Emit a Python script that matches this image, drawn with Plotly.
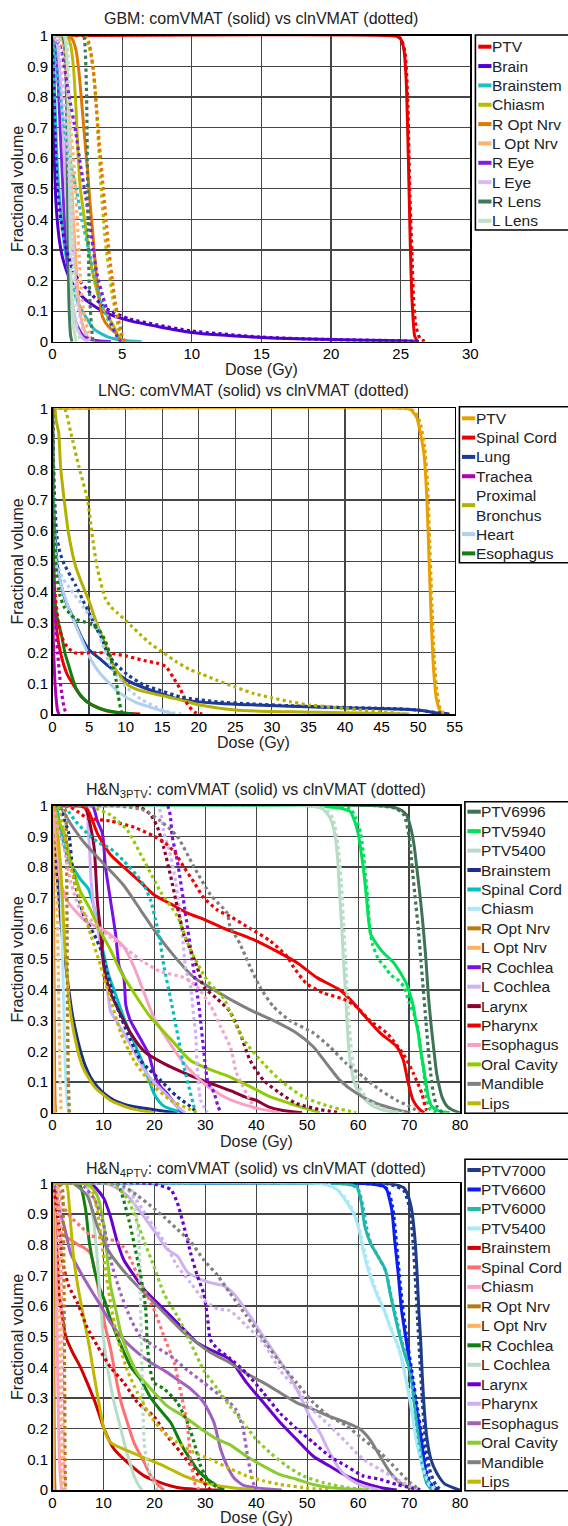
import plotly.graph_objects as go

W, H = 568, 1526
FONT = "Liberation Sans, Arial, Helvetica, sans-serif"

# =================== DATA (dose Gy, fractional volume) ===================
# ---- GBM ----
GBM_NAMES = ["PTV", "Brain", "Brainstem", "Chiasm", "R Opt Nrv", "L Opt Nrv",
             "R Eye", "L Eye", "R Lens", "L Lens"]
GBM_COLORS = ["#e80000", "#5000d0", "#20c0c0", "#bfb800", "#e07800", "#ffb070",
              "#7b22e0", "#d8b8f8", "#3d7a5c", "#c0e0c8"]
GBM_PTV_COM = [(0,1),(24.5,1),(24.9,0.995),(25.1,0.98),(25.25,0.95),(25.4,0.85),(25.5,0.7),(25.6,0.5),(25.7,0.3),(25.8,0.15),(25.9,0.07),(26.0,0.02),(26.2,0)]
GBM_PTV_CLN = [(0,1),(24.5,1),(25.0,0.99),(25.3,0.95),(25.5,0.8),(25.65,0.5),(25.8,0.3),(25.95,0.12),(26.1,0.05),(26.4,0.01),(26.8,0)]
GBM_BRAIN_COM = [(0,1),(0.05,0.8),(0.1,0.65),(0.2,0.5),(0.3,0.42),(0.5,0.33),(0.75,0.27),(1.3,0.2),(2.3,0.14),(3.8,0.095),(5.6,0.068),(7.5,0.05),(10,0.03),(15,0.014),(20,0.007),(25,0.003),(26.3,0)]
GBM_BRAIN_CLN = [(0,1),(0.1,0.85),(0.2,0.65),(0.35,0.5),(0.6,0.4),(1.0,0.3),(1.6,0.22),(2.5,0.17),(3.8,0.11),(5.5,0.075),(7.5,0.055),(10,0.035),(15,0.015),(20,0.007),(25,0.003),(26.3,0)]
GBM_BSTEM_COM = [(0,1),(0.1,0.9),(0.2,0.75),(0.3,0.62),(0.45,0.5),(0.65,0.4),(0.9,0.3),(1.3,0.2),(1.8,0.13),(2.4,0.08),(3,0.04),(4,0.015),(5,0.005),(6.4,0)]
GBM_BSTEM_CLN = [(0,1),(0.2,0.95),(0.4,0.85),(0.7,0.75),(1.0,0.65),(1.3,0.58),(1.7,0.5),(2.1,0.4),(2.6,0.3),(3.1,0.2),(3.6,0.12),(4.2,0.05),(4.8,0.01),(5.2,0)]
GBM_CHIASM_COM = [(0,1),(1.0,1),(1.3,0.97),(1.5,0.9),(1.7,0.75),(1.85,0.6),(2.0,0.5),(2.3,0.4),(2.6,0.3),(3.0,0.2),(3.5,0.12),(4.0,0.08),(4.4,0.05),(4.7,0.02),(5.0,0)]
GBM_CHIASM_CLN = [(0,1),(2.2,1),(2.6,0.97),(2.9,0.9),(3.1,0.8),(3.3,0.65),(3.5,0.5),(3.75,0.35),(4.0,0.25),(4.3,0.15),(4.6,0.08),(4.8,0.03),(5.0,0)]
GBM_ROPT_COM = [(0,1),(1.0,1),(1.4,0.99),(1.7,0.95),(1.9,0.88),(2.1,0.78),(2.3,0.67),(2.5,0.57),(2.7,0.45),(2.9,0.35),(3.1,0.24),(3.3,0.16),(3.6,0.08),(4.0,0.05),(4.5,0.03),(5.0,0)]
GBM_ROPT_CLN = [(0,1),(2.3,1),(2.6,0.98),(2.9,0.9),(3.1,0.8),(3.3,0.68),(3.55,0.55),(3.8,0.42),(4.0,0.32),(4.25,0.22),(4.5,0.13),(4.8,0.06),(5.0,0.02),(5.2,0)]
GBM_LOPT_COM = [(0,1),(0.6,1),(0.9,0.95),(1.1,0.8),(1.3,0.6),(1.5,0.4),(1.7,0.25),(1.9,0.12),(2.2,0.05),(2.6,0.01),(3.0,0)]
GBM_LOPT_CLN = [(0,1),(0.6,0.98),(0.9,0.9),(1.1,0.8),(1.3,0.7),(1.5,0.6),(1.65,0.5),(1.8,0.38),(1.95,0.25),(2.1,0.15),(2.3,0.08),(2.6,0.03),(2.9,0)]
GBM_REYE_COM = [(0,1),(0.2,0.98),(0.35,0.9),(0.5,0.75),(0.65,0.6),(0.8,0.45),(1.0,0.3),(1.2,0.2),(1.4,0.12),(1.7,0.06),(2.2,0.02),(3.0,0.005),(4.2,0)]
GBM_REYE_CLN = [(0,1),(0.5,0.97),(0.8,0.91),(1.2,0.8),(1.65,0.69),(2.0,0.58),(2.4,0.47),(2.7,0.38),(2.9,0.31),(3.2,0.22),(3.6,0.15),(4.0,0.09),(4.2,0.06),(4.6,0.02),(4.9,0)]
GBM_LEYE_COM = [(0,1),(0.3,0.98),(0.5,0.9),(0.7,0.75),(0.85,0.6),(1.0,0.45),(1.15,0.3),(1.3,0.18),(1.5,0.1),(1.8,0.04),(2.2,0.01),(2.6,0)]
GBM_LEYE_CLN = [(0,1),(0.4,0.98),(0.6,0.9),(0.9,0.75),(1.1,0.6),(1.3,0.45),(1.5,0.3),(1.7,0.18),(1.9,0.1),(2.2,0.04),(2.6,0.01),(3.0,0)]
GBM_RLENS_COM = [(0,1),(0.7,1),(0.9,0.95),(1.0,0.8),(1.05,0.6),(1.1,0.4),(1.15,0.2),(1.2,0.1),(1.3,0.02),(1.4,0)]
GBM_RLENS_CLN = [(0,1),(2.2,1),(2.35,0.95),(2.45,0.8),(2.5,0.6),(2.55,0.4),(2.6,0.25),(2.7,0.12),(2.8,0.05),(2.9,0)]
GBM_LLENS_COM = [(0,1),(0.8,1),(1.0,0.95),(1.1,0.8),(1.2,0.6),(1.25,0.4),(1.3,0.25),(1.4,0.12),(1.5,0.05),(1.7,0)]
GBM_LLENS_CLN = [(0,1),(0.9,1),(1.1,0.95),(1.2,0.8),(1.3,0.6),(1.4,0.4),(1.5,0.25),(1.6,0.12),(1.75,0.05),(2.0,0)]
GBM_COM = [GBM_PTV_COM, GBM_BRAIN_COM, GBM_BSTEM_COM, GBM_CHIASM_COM, GBM_ROPT_COM,
           GBM_LOPT_COM, GBM_REYE_COM, GBM_LEYE_COM, GBM_RLENS_COM, GBM_LLENS_COM]
GBM_CLN = [GBM_PTV_CLN, GBM_BRAIN_CLN, GBM_BSTEM_CLN, GBM_CHIASM_CLN, GBM_ROPT_CLN,
           GBM_LOPT_CLN, GBM_REYE_CLN, GBM_LEYE_CLN, GBM_RLENS_CLN, GBM_LLENS_CLN]

# ---- LNG ----
LNG_NAMES = ["PTV", "Spinal Cord", "Lung", "Trachea", "Proximal<br>Bronchus", "Heart", "Esophagus"]
LNG_COLORS = ["#e8a000", "#ee0000", "#1c3a96", "#b000b0", "#b4b000", "#b0d0f0", "#108010"]
LNG_PTV_COM = [(0,1),(48,1),(49,0.995),(49.8,0.97),(50.3,0.92),(50.8,0.85),(51.2,0.7),(51.5,0.5),(51.8,0.3),(52.1,0.15),(52.5,0.05),(53.0,0.01),(53.3,0)]
LNG_PTV_CLN = [(0,1),(48.5,1),(49.5,0.99),(50.3,0.95),(50.9,0.87),(51.3,0.75),(51.6,0.55),(51.9,0.35),(52.2,0.18),(52.6,0.07),(53.0,0.02),(53.5,0)]
LNG_CORD_COM = [(0,1),(0.05,0.8),(0.1,0.6),(0.2,0.45),(0.35,0.35),(0.6,0.27),(1.1,0.2),(2.0,0.13),(3.0,0.09),(4.0,0.055),(5.4,0.03),(7.5,0.01),(9.5,0.003),(12,0)]
LNG_CORD_CLN = [(0,1),(0.05,0.8),(0.1,0.6),(0.2,0.45),(0.4,0.38),(0.8,0.3),(1.3,0.25),(2.0,0.22),(3.0,0.2),(5,0.2),(7.5,0.2),(10,0.19),(12.5,0.175),(14.5,0.165),(15.5,0.155),(16.5,0.12),(17.5,0.08),(18.5,0.03),(19.5,0.005),(20.5,0)]
LNG_LUNG_COM = [(0,1),(0.1,0.75),(0.3,0.6),(0.6,0.5),(1.0,0.44),(1.8,0.37),(2.7,0.32),(4.0,0.25),(5.0,0.21),(6.5,0.18),(7.7,0.156),(10.2,0.11),(12.6,0.085),(15,0.065),(17.6,0.047),(22.5,0.035),(27,0.03),(32.5,0.025),(37,0.022),(42.3,0.019),(47,0.016),(49.8,0.013),(51,0.01),(52.3,0.004),(54.3,0)]
LNG_LUNG_CLN = [(0,1),(0.1,0.85),(0.3,0.7),(0.6,0.58),(1.0,0.53),(1.6,0.49),(2.5,0.45),(3.2,0.42),(4.2,0.37),(5.2,0.32),(6.0,0.28),(6.7,0.25),(7.5,0.2),(8.4,0.17),(10.2,0.13),(12.5,0.095),(15,0.075),(17.6,0.055),(22.5,0.04),(27,0.033),(32.5,0.027),(37,0.023),(42.3,0.02),(47,0.017),(50,0.013),(52,0.006),(54.3,0)]
LNG_TRACH_COM = [(0,1),(0.02,0.6),(0.05,0.4),(0.1,0.25),(0.3,0.12),(0.5,0.05),(0.7,0.01),(0.9,0)]
LNG_TRACH_CLN = [(0,1),(0.05,0.6),(0.2,0.4),(0.4,0.3),(0.7,0.2),(1.0,0.12),(1.3,0.06),(1.6,0.02),(1.9,0)]
LNG_BRON_COM = [(0,1),(0.3,1),(0.5,0.96),(0.85,0.92),(1.1,0.81),(1.6,0.7),(2.2,0.59),(3.2,0.48),(4.3,0.41),(5.0,0.37),(5.7,0.32),(6.5,0.27),(7.5,0.21),(8.3,0.16),(9.1,0.13),(10,0.1),(11.1,0.085),(12.6,0.073),(15,0.06),(17.6,0.046),(20,0.03),(25,0.013),(32.5,0.007),(40,0.004),(48.8,0)]
LNG_BRON_CLN = [(0,1),(1.6,1),(2.5,0.92),(3.6,0.81),(4.8,0.7),(5.4,0.59),(6.1,0.48),(7.2,0.38),(8.0,0.35),(8.9,0.33),(10.7,0.29),(12,0.26),(13.4,0.23),(15.2,0.2),(17,0.17),(18.8,0.145),(20.5,0.13),(22.5,0.11),(25,0.088),(27.5,0.067),(30,0.053),(32.5,0.04),(35,0.03),(37.4,0.024),(40,0.018),(42.3,0.013),(45,0.007),(48.3,0)]
LNG_HEART_COM = [(0,1),(0.1,0.7),(0.3,0.55),(0.6,0.48),(1.1,0.43),(1.6,0.39),(2.3,0.34),(3.0,0.3),(3.7,0.26),(4.8,0.2),(5.7,0.16),(6.6,0.13),(7.8,0.1),(9.1,0.07),(11.4,0.038),(13.7,0.02),(15,0.01),(16.6,0)]
LNG_HEART_CLN = [(0,1),(0.1,0.75),(0.3,0.6),(0.8,0.48),(1.5,0.44),(2.1,0.42),(3.0,0.39),(3.7,0.37),(4.5,0.34),(5.5,0.31),(6.2,0.28),(6.8,0.23),(7.9,0.16),(9,0.12),(10,0.09),(12,0.05),(14.4,0.02),(16,0.006),(17.6,0)]
LNG_ESO_COM = [(0,1),(0.05,0.7),(0.15,0.5),(0.3,0.38),(0.6,0.32),(1.0,0.28),(1.3,0.25),(1.7,0.2),(2.2,0.16),(2.7,0.12),(3.3,0.08),(4.0,0.057),(4.7,0.04),(5.8,0.025),(7,0.014),(8.5,0.007),(9.8,0.003),(11.1,0)]
LNG_ESO_CLN = [(0,1),(0.05,0.95),(0.1,0.85),(0.2,0.7),(0.35,0.55),(0.6,0.45),(1.0,0.39),(1.6,0.35),(2.3,0.33),(3.2,0.31),(4.5,0.3),(5.5,0.29),(6.5,0.27),(7.2,0.24),(7.8,0.2),(8.3,0.15),(8.7,0.11),(9.0,0.06),(9.3,0.02),(9.5,0)]
LNG_COM = [LNG_PTV_COM, LNG_CORD_COM, LNG_LUNG_COM, LNG_TRACH_COM, LNG_BRON_COM, LNG_HEART_COM, LNG_ESO_COM]
LNG_CLN = [LNG_PTV_CLN, LNG_CORD_CLN, LNG_LUNG_CLN, LNG_TRACH_CLN, LNG_BRON_CLN, LNG_HEART_CLN, LNG_ESO_CLN]

# ---- H&N 3PTV ----
HN3_NAMES = ["PTV6996", "PTV5940", "PTV5400", "Brainstem", "Spinal Cord", "Chiasm", "R Opt Nrv",
             "L Opt Nrv", "R Cochlea", "L Cochlea", "Larynx", "Pharynx", "Esophagus",
             "Oral Cavity", "Mandible", "Lips"]
HN3_COLORS = ["#3e7355", "#00e05a", "#b8dcc8", "#1a2f8a", "#00c0c0", "#b0e8f8", "#b87a10",
              "#ffb060", "#7a10e8", "#d0b0f8", "#900030", "#f00000", "#f8a0c8",
              "#90cc00", "#808080", "#c0b800"]
HN3_P6996_COM = [(0,1),(64,1),(67,0.995),(68.5,0.985),(69.5,0.97),(70.3,0.93),(71,0.87),(71.5,0.8),(72.2,0.7),(72.8,0.6),(73.3,0.5),(73.8,0.38),(74.3,0.29),(74.9,0.2),(75.4,0.13),(76,0.08),(76.5,0.05),(77.5,0.02),(78.6,0.008),(80,0)]
HN3_P6996_CLN = [(0,1),(64,1),(67.5,0.99),(69,0.97),(70,0.9),(70.6,0.8),(71.2,0.7),(71.8,0.6),(72.3,0.5),(72.8,0.4),(73.3,0.3),(73.8,0.2),(74.3,0.12),(74.8,0.06),(75.5,0.02),(76.5,0)]
HN3_P5940_COM = [(0,1),(52,1),(55,0.995),(57,0.99),(58.5,0.98),(59.3,0.95),(60,0.91),(60.5,0.86),(61,0.8),(61.4,0.74),(61.7,0.69),(62.1,0.62),(62.5,0.58),(63.6,0.55),(65,0.52),(66.9,0.49),(68.5,0.45),(69.5,0.42),(70.3,0.38),(70.8,0.35),(71.3,0.3),(71.8,0.26),(72.3,0.2),(72.8,0.15),(73.3,0.1),(73.8,0.05),(74.5,0.02),(76,0.005),(78,0)]
HN3_P5940_CLN = [(0,1),(52,1),(56,0.995),(58.5,0.99),(59.5,0.96),(60.5,0.91),(61.3,0.8),(61.9,0.69),(62.3,0.6),(62.8,0.55),(64,0.5),(65.5,0.47),(66.3,0.45),(68,0.43),(69,0.41),(70,0.36),(71,0.32),(71.7,0.28),(72,0.24),(72.5,0.18),(72.8,0.15),(73.2,0.08),(73.5,0.04),(74.2,0.01),(75.5,0)]
HN3_P5400_COM = [(0,1),(50,1),(53,0.99),(54.5,0.96),(55.5,0.9),(56,0.82),(56.4,0.7),(56.8,0.6),(57.1,0.5),(57.5,0.4),(57.8,0.3),(58.2,0.2),(58.6,0.15),(59.2,0.1),(60,0.07),(61.5,0.04),(63,0.02),(65,0.008),(68,0)]
HN3_P5400_CLN = [(0,1),(50,1),(53.5,0.99),(55,0.96),(56,0.88),(56.7,0.75),(57.2,0.6),(57.6,0.48),(57.9,0.38),(58.3,0.28),(58.7,0.2),(59.2,0.14),(59.8,0.1),(60.7,0.07),(62,0.04),(64,0.02),(66,0.007),(69,0)]
HN3_BSTEM_COM = [(0,1),(0.3,0.92),(0.6,0.83),(1.0,0.75),(1.5,0.65),(2.0,0.56),(2.6,0.48),(3.2,0.4),(3.9,0.32),(4.9,0.24),(5.7,0.19),(6.5,0.15),(7.5,0.115),(8.8,0.085),(10.3,0.06),(12.1,0.04),(14,0.028),(16.7,0.018),(19.9,0.01),(22,0.005),(24.5,0)]
HN3_BSTEM_CLN = [(0,1),(1.5,0.99),(2.2,0.96),(3.2,0.91),(3.9,0.8),(4.5,0.74),(5.3,0.69),(6.2,0.64),(8.2,0.58),(9.5,0.53),(10.4,0.48),(12.1,0.37),(14.7,0.26),(17.3,0.17),(19,0.14),(21.2,0.106),(23,0.075),(24.5,0.052),(27.1,0.02),(28.4,0)]
HN3_CORD_COM = [(0,1),(0.8,0.99),(1.5,0.93),(2.3,0.87),(3.2,0.82),(4.3,0.79),(5.5,0.76),(7.0,0.73),(8.0,0.68),(9.0,0.6),(10.0,0.52),(11.0,0.45),(12.5,0.38),(14.0,0.31),(15.5,0.25),(17,0.19),(18,0.15),(19.9,0.063),(21,0.035),(22,0.02),(24,0.008),(26,0)]
HN3_CORD_CLN = [(0,1),(2.5,1),(3.2,0.98),(4.5,0.95),(6.8,0.91),(9,0.88),(11.4,0.86),(14,0.82),(16.7,0.77),(18,0.74),(19.3,0.69),(20.2,0.63),(20.9,0.58),(21.9,0.475),(23.2,0.37),(24.5,0.26),(25.8,0.15),(27.1,0.063),(27.6,0.03),(28.1,0)]
HN3_CHIASM_COM = [(0,1),(0.5,0.98),(1,0.9),(1.5,0.8),(2,0.5),(2.4,0.2),(2.8,0.05),(3.2,0)]
HN3_CHIASM_CLN = [(0,1),(2.3,0.99),(2.7,0.9),(2.9,0.6),(3.05,0.3),(3.2,0.1),(3.4,0)]
HN3_ROPT_COM = [(0,1),(0.1,0.95),(0.2,0.7),(0.3,0.4),(0.4,0.15),(0.5,0.03),(0.6,0)]
HN3_ROPT_CLN = [(0,1),(2.4,0.99),(2.7,0.9),(2.85,0.6),(2.95,0.3),(3.1,0.1),(3.3,0)]
HN3_LOPT_COM = [(0,1),(0.05,0.9),(0.1,0.6),(0.15,0.3),(0.25,0.05),(0.35,0)]
HN3_LOPT_CLN = [(0,1),(0.3,0.95),(0.6,0.85),(0.9,0.7),(1.1,0.5),(1.3,0.3),(1.5,0.1),(1.7,0)]
HN3_RCOCH_COM = [(0,1),(7.8,1),(8.8,0.95),(9.8,0.91),(10.4,0.8),(11.4,0.69),(12.4,0.58),(13.1,0.475),(14,0.44),(14.4,0.35),(15.3,0.3),(17.3,0.24),(18.9,0.19),(19.9,0.13),(21.2,0.085),(22.5,0.063),(23.5,0.04),(24.5,0.02),(25.5,0)]
HN3_RCOCH_CLN = [(0,1),(22.5,1),(23.1,0.97),(23.5,0.9),(24.5,0.82),(26,0.66),(27.4,0.5),(28.8,0.34),(29.9,0.17),(30.5,0.1),(31.7,0.066),(32.5,0.02),(33.1,0)]
HN3_LCOCH_COM = [(0,1),(6.5,1),(7.0,0.92),(7.3,0.85),(7.6,0.75),(8.3,0.65),(9.1,0.58),(10,0.48),(10.8,0.4),(11.4,0.33),(12.5,0.3),(14,0.26),(16,0.2),(18,0.14),(19.9,0.1),(21.7,0.07),(23.5,0.04),(24.5,0.02),(26,0)]
HN3_LCOCH_CLN = [(0,1),(20.5,1),(21.2,0.98),(21.9,0.91),(23,0.85),(24.2,0.75),(25.5,0.58),(26.1,0.475),(27.1,0.41),(27.8,0.3),(28.1,0.26),(28.4,0.15),(29.1,0.04),(30.4,0)]
HN3_LARYNX_COM = [(0,1),(6,1),(6.8,0.98),(7.5,0.93),(8.2,0.86),(8.8,0.69),(9.5,0.58),(10.1,0.475),(11.4,0.39),(13.4,0.32),(15.3,0.26),(18,0.2),(21.9,0.16),(25.8,0.13),(29.5,0.105),(32,0.09),(35.2,0.07),(38,0.05),(40,0.04),(42.3,0.02),(45,0.008),(49,0)]
HN3_LARYNX_CLN = [(0,1),(15,1),(17.3,0.995),(19.3,0.97),(20.6,0.93),(21.9,0.86),(23.2,0.77),(24.5,0.67),(25.8,0.58),(27.1,0.53),(28.4,0.475),(29.7,0.41),(32.4,0.37),(34.8,0.33),(36.8,0.26),(38.8,0.17),(41.4,0.106),(44.7,0.063),(47.9,0.03),(52.5,0.01),(56.5,0)]
HN3_PHARYNX_COM = [(0,1),(4.9,1),(6.8,0.99),(8.8,0.91),(11.4,0.84),(14,0.8),(16.7,0.76),(19.9,0.71),(23.2,0.68),(26.5,0.65),(29.7,0.63),(33.7,0.6),(37,0.58),(40,0.56),(44.7,0.52),(47.9,0.49),(51.9,0.44),(56.4,0.4),(58.4,0.37),(61,0.32),(64.3,0.26),(67.6,0.215),(68.9,0.17),(69.8,0.1),(70.8,0.04),(72.1,0.01),(73,0)]
HN3_PHARYNX_CLN = [(0,1),(3,1),(5,0.98),(6.8,0.96),(11.4,0.95),(16,0.93),(20,0.9),(22,0.88),(23.9,0.85),(25.8,0.8),(27.8,0.75),(29.7,0.7),(32.4,0.66),(34.8,0.64),(38.8,0.6),(42.7,0.56),(46,0.51),(47.3,0.475),(49.9,0.42),(53.2,0.39),(57.1,0.37),(59.7,0.345),(62.3,0.3),(65.6,0.26),(68.9,0.19),(70.8,0.13),(72.5,0.063),(73.4,0.01),(74,0)]
HN3_ESO_COM = [(0,1),(0.3,0.99),(0.6,0.92),(0.95,0.86),(1.6,0.75),(2.9,0.69),(4.9,0.65),(6.8,0.62),(9.5,0.6),(12.1,0.57),(14,0.54),(16,0.475),(18,0.39),(19.9,0.31),(22.5,0.24),(25.8,0.16),(29.7,0.096),(33.7,0.052),(36,0.035),(40,0.015),(44.7,0)]
HN3_ESO_CLN = [(0,1),(0.3,0.99),(1.0,0.93),(2.3,0.86),(3.6,0.75),(5.5,0.66),(8.8,0.61),(11.4,0.57),(14.7,0.53),(18,0.49),(21.2,0.46),(25.8,0.44),(28.4,0.41),(31,0.35),(33,0.28),(35,0.21),(36.1,0.13),(37.4,0.085),(38.8,0.04),(40.2,0)]
HN3_ORAL_COM = [(0,1),(0.5,0.99),(0.95,0.96),(2.3,0.91),(3.6,0.82),(5.5,0.72),(7.5,0.66),(9.1,0.6),(11.4,0.53),(13.4,0.46),(16,0.39),(19.3,0.31),(23.2,0.24),(27.1,0.17),(31,0.14),(34.8,0.117),(38.8,0.085),(42.7,0.052),(46.6,0.03),(50.5,0.01),(52.5,0)]
HN3_ORAL_CLN = [(0,1),(8,1),(8.8,0.99),(11.4,0.97),(14.7,0.92),(18,0.82),(21.2,0.72),(24.5,0.64),(27.1,0.53),(30.4,0.43),(33.7,0.37),(34.8,0.33),(35.6,0.3),(37.4,0.24),(41.4,0.16),(44.7,0.106),(49.2,0.052),(54.4,0.02),(59.6,0)]
HN3_MAND_COM = [(0,1),(1.3,1),(3.6,0.94),(6.2,0.88),(10.1,0.81),(14,0.74),(17.3,0.66),(20.6,0.58),(23.9,0.51),(27.8,0.44),(31.7,0.4),(34.8,0.37),(39.4,0.33),(43.4,0.3),(47.9,0.26),(51.2,0.215),(53.8,0.16),(56.4,0.106),(59.7,0.063),(63.6,0.03),(67.6,0.01),(70.2,0)]
HN3_MAND_CLN = [(0,1),(12,1),(15,0.995),(18,0.985),(21.2,0.95),(24.5,0.9),(27.8,0.8),(31,0.71),(34.3,0.65),(34.8,0.61),(36.8,0.55),(38.8,0.475),(40.7,0.41),(43.4,0.345),(46.6,0.3),(51.2,0.26),(54.4,0.215),(57.7,0.16),(61,0.117),(64.3,0.074),(67.6,0.04),(70.2,0.02),(72.1,0)]
HN3_LIPS_COM = [(0,1),(0.3,0.99),(0.8,0.95),(1.2,0.88),(1.6,0.8),(2.0,0.68),(2.3,0.58),(2.8,0.46),(3.2,0.37),(4.2,0.26),(5.9,0.15),(8.2,0.085),(11.4,0.04),(15.3,0.014),(19.9,0)]
HN3_LIPS_CLN = [(0,1),(1.0,1),(1.3,0.99),(2.3,0.91),(3.6,0.8),(5.5,0.69),(7.5,0.58),(9.5,0.475),(11.4,0.37),(13.4,0.26),(16,0.17),(19.3,0.096),(23.2,0.04),(27.1,0.01),(28.4,0)]
HN3_COM = [HN3_P6996_COM, HN3_P5940_COM, HN3_P5400_COM, HN3_BSTEM_COM, HN3_CORD_COM, HN3_CHIASM_COM,
           HN3_ROPT_COM, HN3_LOPT_COM, HN3_RCOCH_COM, HN3_LCOCH_COM, HN3_LARYNX_COM, HN3_PHARYNX_COM,
           HN3_ESO_COM, HN3_ORAL_COM, HN3_MAND_COM, HN3_LIPS_COM]
HN3_CLN = [HN3_P6996_CLN, HN3_P5940_CLN, HN3_P5400_CLN, HN3_BSTEM_CLN, HN3_CORD_CLN, HN3_CHIASM_CLN,
           HN3_ROPT_CLN, HN3_LOPT_CLN, HN3_RCOCH_CLN, HN3_LCOCH_CLN, HN3_LARYNX_CLN, HN3_PHARYNX_CLN,
           HN3_ESO_CLN, HN3_ORAL_CLN, HN3_MAND_CLN, HN3_LIPS_CLN]

# ---- H&N 4PTV ----
HN4_NAMES = ["PTV7000", "PTV6600", "PTV6000", "PTV5400", "Brainstem", "Spinal Cord", "Chiasm",
             "R Opt Nrv", "L Opt Nrv", "R Cochlea", "L Cochlea", "Larynx", "Pharynx",
             "Esophagus", "Oral Cavity", "Mandible", "Lips"]
HN4_COLORS = ["#1f3c88", "#0a1ef0", "#20b8b0", "#a8e8f8", "#d00000", "#ff6f6f", "#ffa0c8",
              "#b87a10", "#ffb060", "#108010", "#b8dcc8", "#6a00d0", "#d0b0f0",
              "#a060c0", "#88cc30", "#808080", "#c0b800"]
HN4_P7000_COM = [(0,1),(65,1),(67.5,0.995),(69,0.985),(69.8,0.96),(70.5,0.915),(71.2,0.81),(71.6,0.7),(71.9,0.59),(72.3,0.48),(72.6,0.37),(73,0.26),(73.5,0.17),(74,0.12),(74.5,0.09),(75,0.07),(76,0.04),(77,0.02),(78.6,0.008),(80,0)]
HN4_P7000_CLN = [(0,1),(65,1),(67.5,0.99),(69,0.975),(69.8,0.94),(70.4,0.88),(70.9,0.78),(71.3,0.67),(71.7,0.55),(72.1,0.43),(72.5,0.32),(72.9,0.22),(73.4,0.13),(74,0.07),(74.7,0.035),(75.5,0.01),(76.5,0)]
HN4_P6600_COM = [(0,1),(60,1),(63.6,0.995),(65,0.99),(65.6,0.98),(66.6,0.915),(67.2,0.81),(67.9,0.7),(68.5,0.59),(69.5,0.48),(70.5,0.37),(71.5,0.26),(72.5,0.155),(73.4,0.046),(74.2,0.02),(75.8,0)]
HN4_P6600_CLN = [(0,1),(60,1),(64,0.995),(65.8,0.98),(66.8,0.92),(67.5,0.81),(68.1,0.7),(68.8,0.59),(69.7,0.48),(70.7,0.37),(71.7,0.26),(72.7,0.155),(73.5,0.06),(74.3,0.02),(75.5,0)]
HN4_P6000_COM = [(0,1),(55,1),(58.4,0.995),(59.7,0.99),(60.6,0.94),(61.3,0.86),(62.3,0.81),(63.6,0.77),(65.3,0.72),(66.3,0.64),(67.2,0.57),(68.2,0.5),(69.2,0.44),(70.2,0.39),(70.8,0.32),(71.5,0.21),(72.5,0.1),(73.4,0.024),(74.5,0)]
HN4_P6000_CLN = [(0,1),(55,1),(58.8,0.995),(60,0.98),(60.9,0.93),(61.6,0.86),(62.6,0.8),(64,0.76),(65.5,0.71),(66.5,0.63),(67.5,0.56),(68.5,0.49),(69.5,0.43),(70.3,0.37),(70.9,0.3),(71.6,0.2),(72.4,0.1),(73.2,0.04),(74,0.01),(75,0)]
HN4_P5400_COM = [(0,1),(52,1),(53.8,0.995),(55.8,0.98),(57.7,0.94),(59.4,0.89),(60.3,0.84),(61,0.78),(62.3,0.7),(63.6,0.64),(65,0.59),(66.3,0.53),(67.6,0.48),(68.5,0.43),(69.5,0.35),(70.5,0.26),(71.5,0.155),(72.8,0.067),(74.1,0.013),(75.5,0)]
HN4_P5400_CLN = [(0,1),(52,1),(54.3,0.995),(56.2,0.975),(58,0.94),(59.6,0.89),(60.6,0.83),(61.4,0.77),(62.7,0.69),(64,0.63),(65.3,0.58),(66.6,0.52),(67.8,0.47),(68.7,0.42),(69.6,0.35),(70.5,0.27),(71.5,0.16),(72.6,0.08),(73.8,0.025),(75.5,0)]
HN4_BSTEM_COM = [(0,1),(0.3,0.99),(0.45,0.93),(0.6,0.86),(0.95,0.75),(1.3,0.64),(1.9,0.57),(2.6,0.5),(3.9,0.45),(5.5,0.4),(6.8,0.35),(8.5,0.28),(10.1,0.2),(12.1,0.133),(14.7,0.09),(18,0.046),(21.2,0.024),(24.5,0.008),(28.4,0.002),(33,0)]
HN4_BSTEM_CLN = [(0,1),(0.3,0.99),(0.7,0.93),(1.3,0.86),(1.9,0.75),(3.2,0.665),(4.9,0.61),(6.8,0.53),(8.8,0.47),(11.4,0.4),(14,0.35),(16.7,0.285),(19.9,0.24),(22.5,0.176),(25.2,0.122),(27.8,0.067),(29.7,0.024),(31,0)]
HN4_CORD_COM = [(0,1),(0.3,0.99),(0.5,0.93),(0.8,0.87),(1.5,0.84),(3.6,0.815),(5,0.8),(6.2,0.79),(7.5,0.77),(8.5,0.7),(9.5,0.61),(10.4,0.53),(11.4,0.46),(12.4,0.37),(13.4,0.29),(14.7,0.22),(16,0.154),(18,0.09),(19.3,0.046),(20.6,0.018),(21.9,0)]
HN4_CORD_CLN = [(0,1),(1,1),(1.3,0.99),(2.3,0.92),(3.6,0.89),(5.5,0.86),(7.5,0.83),(10.1,0.82),(12.7,0.81),(14,0.79),(15.4,0.75),(17.3,0.676),(19.9,0.59),(21.9,0.5),(23.9,0.415),(25.2,0.317),(26.5,0.21),(27.1,0.1),(28.1,0.015),(29,0)]
HN4_CHIASM_COM = [(0,1),(0.3,0.95),(0.6,0.8),(0.9,0.5),(1.2,0.2),(1.5,0.05),(1.8,0)]
HN4_CHIASM_CLN = [(0,1),(1.0,0.99),(1.5,0.9),(1.8,0.6),(2.0,0.3),(2.2,0.08),(2.5,0)]
HN4_ROPT_COM = [(0,1),(0.1,0.95),(0.2,0.7),(0.3,0.3),(0.4,0.05),(0.5,0)]
HN4_ROPT_CLN = [(0,1),(1.8,0.99),(2.1,0.9),(2.3,0.6),(2.4,0.3),(2.5,0.05),(2.6,0)]
HN4_LOPT_COM = [(0,1),(0.05,0.9),(0.1,0.5),(0.15,0.1),(0.2,0)]
HN4_LOPT_CLN = [(0,1),(0.8,0.99),(1.1,0.9),(1.3,0.7),(1.5,0.4),(1.7,0.15),(1.9,0.03),(2.1,0)]
HN4_RCOCH_COM = [(0,1),(5,1),(5.5,0.99),(6.5,0.915),(7.2,0.81),(8.2,0.72),(9.1,0.665),(10.4,0.61),(11.4,0.556),(12.7,0.5),(14,0.45),(15.4,0.4),(17.3,0.36),(19.3,0.3),(21.2,0.26),(23.2,0.22),(24.5,0.176),(25.8,0.133),(27.1,0.1),(28.4,0.067),(30.4,0.035),(32.4,0.013),(33.7,0)]
HN4_RCOCH_CLN = [(0,1),(12.5,1),(13.1,0.99),(15,0.88),(17.3,0.7),(18.3,0.59),(18.6,0.48),(19.1,0.4),(19.9,0.35),(21.9,0.33),(24.5,0.285),(26.5,0.22),(27.8,0.155),(29.1,0.078),(30.4,0.035),(33,0)]
HN4_LCOCH_COM = [(0,1),(6,1),(6.8,0.99),(7.5,0.93),(8.2,0.86),(8.8,0.75),(9.5,0.59),(10.1,0.48),(11.1,0.37),(12.1,0.285),(13.4,0.2),(14.4,0.133),(15.4,0.078),(16,0.046),(17,0.013),(17.6,0)]
HN4_LCOCH_CLN = [(0,1),(15,1),(15.4,0.99),(16.3,0.91),(17,0.81),(17.3,0.59),(17.6,0.37),(18,0.155),(18.6,0.09),(19.3,0.046),(20.6,0)]
HN4_LARYNX_COM = [(0,1),(7.5,1),(8.2,0.99),(10.1,0.95),(11.4,0.89),(12.7,0.81),(14,0.75),(16,0.7),(18,0.654),(20.6,0.61),(23.2,0.567),(25.8,0.524),(28.4,0.48),(31,0.457),(34.8,0.426),(38.1,0.35),(41.4,0.285),(44.7,0.22),(47.9,0.165),(51.2,0.11),(54.4,0.078),(57.7,0.046),(61,0.024),(64.3,0.008),(67.6,0)]
HN4_LARYNX_CLN = [(0,1),(19,1),(20.6,0.995),(23.2,0.98),(24.5,0.937),(25.8,0.86),(27.1,0.774),(28.4,0.7),(29.7,0.64),(30.4,0.567),(31,0.49),(32.4,0.46),(34.8,0.43),(38.1,0.38),(41.4,0.317),(44.7,0.25),(47.9,0.2),(51.2,0.155),(54.4,0.11),(57.7,0.078),(61,0.046),(64.3,0.035),(67.6,0.018),(70.8,0.006),(72.8,0)]
HN4_PHARYNX_COM = [(0,1),(10,1),(12,0.99),(14.7,0.96),(18,0.89),(20.6,0.83),(22.5,0.785),(24.5,0.763),(26.5,0.71),(29.1,0.687),(31,0.676),(33.7,0.665),(35.6,0.64),(38.8,0.567),(41.4,0.5),(44,0.437),(46.6,0.37),(48.6,0.307),(50.5,0.24),(52.5,0.187),(54.4,0.122),(56.4,0.067),(58.4,0.035),(61,0.013),(64.3,0)]
HN4_PHARYNX_CLN = [(0,1),(11,1),(13,0.99),(15.4,0.97),(18.6,0.89),(21.9,0.81),(24.5,0.73),(27.1,0.676),(29.7,0.62),(32.4,0.59),(34.8,0.585),(38.1,0.535),(41.4,0.48),(44.7,0.39),(47.9,0.33),(51.2,0.26),(54.4,0.21),(57.7,0.155),(61,0.1),(64.3,0.067),(67.6,0.035),(70.2,0.012),(72,0)]
HN4_ESO_COM = [(0,1),(0.5,0.99),(0.95,0.95),(1.5,0.9),(2.3,0.86),(3.6,0.77),(5.5,0.71),(7.5,0.654),(9.5,0.6),(11.4,0.546),(14,0.49),(16.7,0.448),(19.3,0.415),(21.9,0.39),(24.5,0.36),(27.1,0.33),(29.7,0.285),(31.7,0.22),(33,0.133),(34.3,0.078),(35.6,0.04),(37.5,0.015),(41,0.005),(45,0)]
HN4_ESO_CLN = [(0,1),(5.5,1),(6.2,0.99),(8.2,0.95),(10.1,0.86),(11.4,0.75),(13.4,0.64),(15.4,0.556),(17.3,0.5),(19.9,0.47),(23.2,0.437),(26.5,0.39),(29.7,0.35),(33,0.307),(34.8,0.285),(36.1,0.26),(37.4,0.2),(38.4,0.1),(39.4,0.024),(40,0)]
HN4_ORAL_COM = [(0,1),(6,1),(7.5,0.99),(8.8,0.96),(10.1,0.86),(10.8,0.75),(11.4,0.665),(12.4,0.59),(13.4,0.513),(14.7,0.45),(16.7,0.38),(19.3,0.33),(22.5,0.274),(25.8,0.24),(29.1,0.2),(32.4,0.165),(34.8,0.148),(38.1,0.11),(41.4,0.078),(44.7,0.05),(47.9,0.035),(51.2,0.018),(54.4,0.008),(59.7,0.002),(62,0)]
HN4_ORAL_CLN = [(0,1),(11,1),(12.5,0.99),(14.7,0.95),(16.5,0.88),(18,0.81),(19.9,0.73),(21.9,0.64),(24.5,0.567),(27.1,0.48),(29.7,0.39),(32.4,0.33),(34.8,0.274),(37.4,0.22),(40,0.165),(42.7,0.122),(46,0.078),(49.2,0.046),(53.1,0.024),(57.7,0.008),(62.3,0)]
HN4_MAND_COM = [(0,1),(4,1),(4.9,0.99),(6.8,0.96),(8.8,0.86),(10.8,0.785),(12.7,0.74),(15.4,0.687),(18,0.643),(20.6,0.6),(23.2,0.556),(25.8,0.513),(28.4,0.48),(31,0.448),(34.8,0.415),(38.1,0.38),(41.4,0.35),(44.7,0.317),(47.9,0.285),(51.2,0.263),(54.4,0.24),(57.7,0.22),(60.3,0.2),(62.3,0.165),(64.3,0.11),(66.3,0.057),(68.2,0.024),(70.2,0.008),(72.1,0)]
HN4_MAND_CLN = [(0,1),(12,1),(14,0.99),(16.7,0.96),(19.3,0.926),(21.9,0.89),(24.5,0.85),(27.1,0.81),(29.7,0.75),(32.4,0.7),(34.8,0.643),(38.1,0.567),(41.4,0.49),(44.7,0.415),(47.9,0.35),(51.2,0.285),(54.4,0.24),(57.7,0.21),(61,0.165),(64.3,0.122),(67.6,0.067),(70.2,0.024),(72.1,0)]
HN4_LIPS_COM = [(0,1),(2.5,1),(2.9,0.99),(3.6,0.86),(4.2,0.75),(5.2,0.643),(6.2,0.556),(7.2,0.47),(8.2,0.37),(9.1,0.285),(10.1,0.2),(11.4,0.155),(14,0.133),(18,0.105),(21.9,0.078),(25.8,0.046),(29.7,0.024),(35,0.008),(40,0)]
HN4_LIPS_CLN = [(0,1),(6.5,1),(7.5,0.99),(8.8,0.91),(10.1,0.75),(11.4,0.61),(12.7,0.5),(14.7,0.39),(16.7,0.317),(19.3,0.24),(21.9,0.187),(24.5,0.155),(27.8,0.122),(31,0.1),(34.8,0.07),(38.1,0.046),(41.4,0.03),(44.7,0.018),(49.2,0.008),(54.4,0)]
HN4_COM = [HN4_P7000_COM, HN4_P6600_COM, HN4_P6000_COM, HN4_P5400_COM, HN4_BSTEM_COM, HN4_CORD_COM,
           HN4_CHIASM_COM, HN4_ROPT_COM, HN4_LOPT_COM, HN4_RCOCH_COM, HN4_LCOCH_COM, HN4_LARYNX_COM,
           HN4_PHARYNX_COM, HN4_ESO_COM, HN4_ORAL_COM, HN4_MAND_COM, HN4_LIPS_COM]
HN4_CLN = [HN4_P7000_CLN, HN4_P6600_CLN, HN4_P6000_CLN, HN4_P5400_CLN, HN4_BSTEM_CLN, HN4_CORD_CLN,
           HN4_CHIASM_CLN, HN4_ROPT_CLN, HN4_LOPT_CLN, HN4_RCOCH_CLN, HN4_LCOCH_CLN, HN4_LARYNX_CLN,
           HN4_PHARYNX_CLN, HN4_ESO_CLN, HN4_ORAL_CLN, HN4_MAND_CLN, HN4_LIPS_CLN]

TITLES = ["GBM: comVMAT (solid) vs clnVMAT (dotted)",
          "LNG: comVMAT (solid) vs clnVMAT (dotted)",
          "H&N<sub>3PTV</sub>: comVMAT (solid) vs clnVMAT (dotted)",
          "H&N<sub>4PTV</sub>: comVMAT (solid) vs clnVMAT (dotted)"]
X_MAX = [30, 55, 80, 80]
X_STEP = [5, 5, 10, 10]

# =================== LAYOUT GEOMETRY (pixels) ===================
GEOM = [
    dict(l=52.5, r=470.3, t=35.7, b=341.7, title_y=18.3, xlab_y=370.0,
         lg_l=475.4, lg_t=35.0, lg_b=230.0, e0=46.7, step=19.35, sw0=478.3, sw1=491.5, tx=491.0),
    dict(l=52.5, r=454.7, t=408.3, b=714.0, title_y=390.7, xlab_y=742.5,
         lg_l=459.4, lg_t=406.7, lg_b=562.7, e0=418.3, step=19.3, sw0=462.0, sw1=475.2, tx=474.8),
    dict(l=52.5, r=460.0, t=805.7, b=1112.7, title_y=790.0, xlab_y=1141.0,
         lg_l=464.9, lg_t=801.7, lg_b=1113.3, e0=811.7, step=19.44, sw0=467.4, sw1=480.8, tx=480.4),
    dict(l=52.5, r=460.0, t=1183.3, b=1490.0, title_y=1169.3, xlab_y=1517.5,
         lg_l=465.0, lg_t=1159.3, lg_b=1490.7, e0=1170.0, step=19.48, sw0=467.4, sw1=480.8, tx=480.4),
]

def px(x):
    return x / W

def py(y):
    return 1 - y / H

PANELS = [
    (GBM_NAMES, GBM_COLORS, GBM_COM, GBM_CLN),
    (LNG_NAMES, LNG_COLORS, LNG_COM, LNG_CLN),
    (HN3_NAMES, HN3_COLORS, HN3_COM, HN3_CLN),
    (HN4_NAMES, HN4_COLORS, HN4_COM, HN4_CLN),
]

fig = go.Figure()
shapes = []
annotations = []

for i, (names, colors, com, cln) in enumerate(PANELS):
    k = "" if i == 0 else str(i + 1)
    xa, ya = "x" + k, "y" + k
    for name, col, pts in zip(names, colors, com):
        fig.add_trace(go.Scatter(
            x=[p[0] for p in pts], y=[p[1] for p in pts], xaxis=xa, yaxis=ya,
            mode="lines", name=name.replace("<br>", " ") + " (comVMAT)",
            line=dict(color=col, width=3, shape="spline", smoothing=0.6),
            showlegend=False, hoverinfo="skip"))
    for name, col, pts in zip(names, colors, cln):
        fig.add_trace(go.Scatter(
            x=[p[0] for p in pts], y=[p[1] for p in pts], xaxis=xa, yaxis=ya,
            mode="lines", name=name.replace("<br>", " ") + " (clnVMAT)",
            line=dict(color=col, width=3.2, dash="dot", shape="spline", smoothing=0.6),
            showlegend=False, hoverinfo="skip"))

    g = GEOM[i]
    axis_common = dict(showline=True, linecolor="black", linewidth=1.5, mirror=True,
                       showgrid=True, gridcolor="#454545", gridwidth=1.2, zeroline=False,
                       ticks="", tickfont=dict(family=FONT, size=15, color="black"),
                       fixedrange=True)
    fig.layout["xaxis" + k] = dict(
        axis_common, domain=[px(g["l"]), px(g["r"])], anchor=ya,
        range=[0, X_MAX[i]], tickmode="linear", tick0=0, dtick=X_STEP[i],
        ticklabelstandoff=-2)
    fig.layout["yaxis" + k] = dict(
        axis_common, domain=[py(g["b"]), py(g["t"])], anchor=xa,
        range=[0, 1], tickmode="linear", tick0=0, dtick=0.1)

    cx = (g["l"] + g["r"]) / 2
    annotations.append(dict(text=TITLES[i], x=px(cx), y=py(g["title_y"]), xref="paper", yref="paper",
                            showarrow=False, xanchor="center", yanchor="middle",
                            font=dict(family=FONT, size=16, color="#222")))
    annotations.append(dict(text="Dose (Gy)", x=px(cx), y=py(g["xlab_y"]), xref="paper", yref="paper",
                            showarrow=False, xanchor="center", yanchor="middle", borderpad=0,
                            font=dict(family=FONT, size=16, color="#222")))
    annotations.append(dict(text="Fractional volume", x=px(17.4), y=py((g["t"] + g["b"]) / 2),
                            xref="paper", yref="paper", showarrow=False, textangle=-90,
                            xanchor="center", yanchor="middle",
                            font=dict(family=FONT, size=16, color="#222")))

    # legend box (drawn from the name/colour lists)
    shapes.append(dict(type="rect", xref="paper", yref="paper",
                       x0=px(g["lg_l"]), x1=px(W + 6), y0=py(g["lg_b"]), y1=py(g["lg_t"]),
                       line=dict(color="black", width=1.6), fillcolor="white", layer="below"))
    yy = g["e0"]
    for name, col in zip(names, colors):
        nlines = name.count("<br>") + 1
        yc = yy + (nlines - 1) * g["step"] / 2
        shapes.append(dict(type="line", xref="paper", yref="paper",
                           x0=px(g["sw0"]), x1=px(g["sw1"]), y0=py(yc), y1=py(yc),
                           line=dict(color=col, width=4)))
        annotations.append(dict(text=name, x=px(g["tx"]), y=py(yc), xref="paper", yref="paper",
                                showarrow=False, xanchor="left", yanchor="middle", align="left",
                                borderpad=0, font=dict(family=FONT, size=15.5, color="#222")))
        yy += nlines * g["step"]

fig.update_layout(
    width=W, height=H, autosize=False,
    margin=dict(l=0, r=0, t=0, b=0, autoexpand=False),
    paper_bgcolor="white", plot_bgcolor="white",
    font=dict(family=FONT, size=15, color="black"),
    showlegend=False, shapes=shapes, annotations=annotations,
)

# remove the browser's default 8px page margin so the figure fills the window exactly
fig.write_html("out.html", config={"displayModeBar": False, "staticPlot": True},
               post_script="document.body.style.margin='0';document.body.style.overflow='hidden';")
